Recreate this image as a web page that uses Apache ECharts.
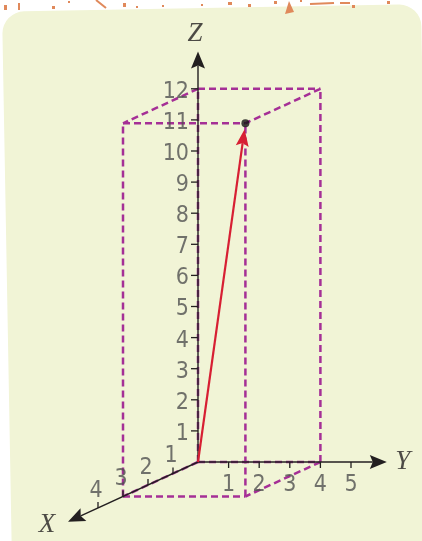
<!DOCTYPE html>
<html>
<head>
<meta charset="utf-8">
<script src="https://cdn.jsdelivr.net/npm/echarts@6/dist/echarts.min.js"></script>
<style>
  html, body { margin: 0; padding: 0; background: #fff; }
  #main { width: 422px; height: 541px; }
</style>
</head>
<body>
<div id="main"></div>
<script>
// 数据：三维坐标 (x, y, z)
const xTicks = [1, 2, 3, 4];
const yTicks = [1, 2, 3, 4, 5];
const zTicks = [1, 2, 3, 4, 5, 6, 7, 8, 9, 10, 11, 12];
const boxSize = [3, 4, 12];          // 长方体
const point = [3, 4, 12];            // 向量终点
const axisLength = [5.2, 6.17, 13.2];
const axisNames = ['X', 'Y', 'Z'];

// 斜二测投影：(x, y, z) -> 平面 (u, v)，u 以 Y 单位计，v 以 Z 单位计
const UY = 30.6, VZ = 31.1;          // 每单位像素
const OX = 198, OY = 462;            // 原点像素位置
const XDIR = [-25 / UY, -11.5 / VZ];
function project(p) {
  return [p[1] + p[0] * XDIR[0], p[2] + p[0] * XDIR[1]];
}

// 长方体的 12 条棱
const corners = [];
[0, boxSize[0]].forEach(a => [0, boxSize[1]].forEach(b => [0, boxSize[2]].forEach(c => corners.push([a, b, c]))));
const boxEdges = [];
for (let i = 0; i < corners.length; i++) {
  for (let j = i + 1; j < corners.length; j++) {
    let diff = 0;
    for (let k = 0; k < 3; k++) if (corners[i][k] !== corners[j][k]) diff++;
    if (diff === 1) boxEdges.push(project(corners[i]).concat(project(corners[j])));
  }
}

// 坐标轴
const axes = axisLength.map((len, i) => {
  const end = [0, 0, 0];
  end[i] = len;
  return project([0, 0, 0]).concat(project(end));
});
const vector = [project([0, 0, 0]).concat(project(point))];

function arrowHead(tip, d, L, W, N) {
  const n = [-d[1], d[0]];
  const back = [tip[0] - d[0] * L, tip[1] - d[1] * L];
  return {
    pts: [tip,
      [back[0] + n[0] * W, back[1] + n[1] * W],
      [tip[0] - d[0] * (L - N), tip[1] - d[1] * (L - N)],
      [back[0] - n[0] * W, back[1] - n[1] * W]],
    neck: [tip[0] - d[0] * (L - N), tip[1] - d[1] * (L - N)]
  };
}

function segRenderer(opt) {
  return function (params, api) {
    const a = api.coord([api.value(0), api.value(1)]);
    let b = api.coord([api.value(2), api.value(3)]);
    const len = Math.hypot(b[0] - a[0], b[1] - a[1]);
    const d = [(b[0] - a[0]) / len, (b[1] - a[1]) / len];
    if (opt.trim) b = [b[0] - d[0] * opt.trim, b[1] - d[1] * opt.trim];
    const children = [];
    let lineEnd = b;
    if (opt.arrow) {
      const h = arrowHead(b, d, opt.arrow[0], opt.arrow[1], opt.arrow[2]);
      lineEnd = h.neck;
      children.push({
        type: 'polygon', shape: { points: h.pts },
        style: { fill: opt.color }, z2: 2
      });
    }
    children.unshift({
      type: 'line',
      shape: { x1: a[0], y1: a[1], x2: lineEnd[0], y2: lineEnd[1] },
      style: { stroke: opt.color, lineWidth: opt.width, lineDash: opt.dash || null }
    });
    return { type: 'group', children: children };
  };
}

// 刻度线
const tickData = [];
xTicks.forEach(t => tickData.push(project([t, 0, 0]).concat([0])));
yTicks.forEach(t => tickData.push(project([0, t, 0]).concat([1])));
zTicks.forEach(t => tickData.push(project([0, 0, t]).concat([2])));
const tickDir = [[0, -6], [0, 6], [-7, 0]];

const labelFont = "'Liberation Sans Narrow', 'DejaVu Sans Condensed', 'Noto Sans', sans-serif";
function tickLabels(ticks, axis, align, offset) {
  return {
    type: 'scatter', symbolSize: 0, z: 5,
    data: ticks.map(t => {
      const p = [0, 0, 0];
      p[axis] = t;
      return { value: project(p), name: String(t) };
    }),
    label: {
      show: true, position: 'inside', formatter: '{b}', align: align,
      verticalAlign: 'middle', offset: offset,
      fontFamily: labelFont, fontSize: 23, color: '#505050'
    }
  };
}

const nameOffsets = [[-21, 3], [16, 0], [-3, -18]];
const nameData = axisNames.map((n, i) => {
  const end = [0, 0, 0];
  end[i] = axisLength[i];
  return { value: project(end), name: n, label: { offset: nameOffsets[i] } };
});

// 背景装饰的橙色斑点
const specks = [
  [4, 5, 3, 5], [18, 3, 2, 7], [52, 6, 3, 3], [68, 1, 2, 2], [123, 3, 3, 4], [136, 6, 2, 2],
  [162, 5, 2, 2], [228, 2, 4, 3], [248, 4, 3, 3], [274, 1, 3, 3], [340, 2, 10, 2],
  [352, 5, 3, 3], [387, 1, 3, 3], [300, 0, 2, 2], [201, 4, 2, 2]
];
const graphics = [{
  type: 'rect', x: 214, y: 284, rotation: 0.018, z: -100, silent: true,
  shape: { x: -207, y: -276, width: 419, height: 560, r: 22 },
  style: { fill: '#f1f4d6' }
}, {
  type: 'polygon', z: -99, silent: true,
  shape: { points: [[285, 14], [289, 1], [294, 12]] },
  style: { fill: '#e0895b' }
}, {
  type: 'line', z: -99, silent: true,
  shape: { x1: 96, y1: 0, x2: 106, y2: 8 },
  style: { stroke: '#e0895b', lineWidth: 2 }
}, {
  type: 'line', z: -99, silent: true,
  shape: { x1: 310, y1: 4, x2: 334, y2: 3 },
  style: { stroke: '#e0895b', lineWidth: 2 }
}].concat(specks.map(s => ({
  type: 'rect', z: -99, silent: true,
  shape: { x: s[0], y: s[1], width: s[2], height: s[3] },
  style: { fill: '#e0895b' }
})));

var myChart = echarts.init(document.getElementById('main'));

var option = {
  animation: false,
  backgroundColor: '#ffffff',
  graphic: graphics,
  grid: { left: 0, right: 0, top: 0, bottom: 0 },
  xAxis: { type: 'value', show: false, min: -OX / UY, max: (422 - OX) / UY },
  yAxis: { type: 'value', show: false, min: -(541 - OY) / VZ, max: OY / VZ },
  series: [
    {
      // 长方体虚线
      type: 'custom', z: 2, data: boxEdges,
      renderItem: segRenderer({ color: '#a52f96', width: 2.5, dash: [7, 4] })
    },
    {
      // 坐标轴
      type: 'custom', z: 3, data: axes,
      renderItem: segRenderer({ color: '#231f20', width: 1.4, arrow: [17, 7, 3] })
    },
    {
      // 刻度
      type: 'custom', z: 3, data: tickData,
      renderItem: function (params, api) {
        const a = api.coord([api.value(0), api.value(1)]);
        const d = tickDir[api.value(2)];
        return {
          type: 'line',
          shape: { x1: a[0], y1: a[1], x2: a[0] + d[0], y2: a[1] + d[1] },
          style: { stroke: '#231f20', lineWidth: 1.3 }
        };
      }
    },
    {
      // 向量
      type: 'custom', z: 4, data: vector,
      renderItem: segRenderer({ color: '#d71f33', width: 2.2, arrow: [17, 6.5, 3], trim: 6 })
    },
    {
      type: 'scatter', z: 6, symbolSize: 8,
      itemStyle: { color: '#111' },
      data: [project(point)]
    },
    tickLabels(zTicks, 2, 'right', [-9, 3]),
    tickLabels(yTicks, 1, 'center', [0, 23]),
    tickLabels(xTicks, 0, 'center', [-2, -17]),
    {
      type: 'scatter', symbolSize: 0, z: 5,
      data: nameData,
      label: {
        show: true, position: 'inside', formatter: '{b}', align: 'center', verticalAlign: 'middle',
        fontFamily: "'Liberation Serif', 'DejaVu Serif', serif", fontStyle: 'italic',
        fontSize: 27, color: '#231f20'
      }
    }
  ]
};

myChart.setOption(option);
</script>
</body>
</html>
